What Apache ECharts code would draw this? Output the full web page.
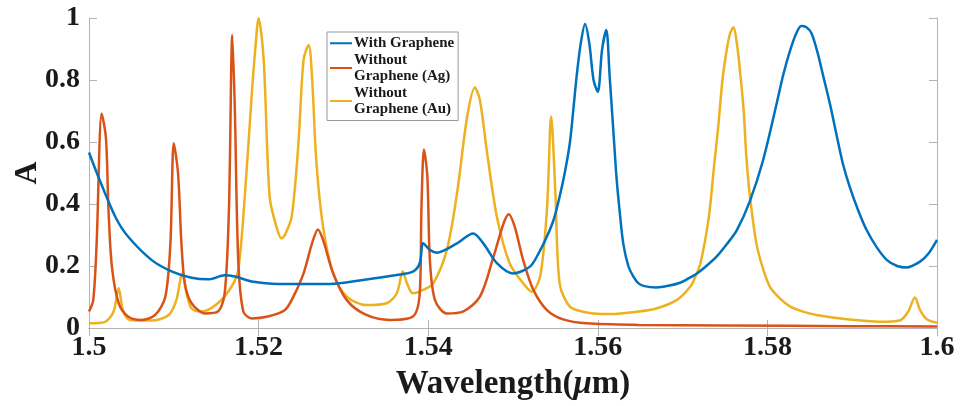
<!DOCTYPE html>
<html>
<head>
<meta charset="utf-8">
<title>Absorption spectra</title>
<script src="https://cdn.jsdelivr.net/npm/echarts@6/dist/echarts.min.js"></script>
<style>
  html, body { margin: 0; padding: 0; background: #fff; }
  #chart { width: 970px; height: 406px; }
</style>
</head>
<body>
<div id="chart"></div>
<script>
// wavelength (um) / absorption values
let grapheneX = [1.5000,1.5011,1.5031,1.5046,1.5074,1.5098,1.5121,1.5141,1.5160,1.5172,1.5192,1.5223,1.5284,1.5323,1.5363,1.5382,1.5390,1.5394,1.5402,1.5410,1.5434,1.5453,1.5465,1.5481,1.5500,1.5520,1.5530,1.5540,1.5548,1.5555,1.5561,1.5567,1.5571,1.5575,1.5580,1.5585,1.5590,1.5595,1.5600,1.5605,1.5610,1.5614,1.5618,1.5622,1.5626,1.5630,1.5636,1.5642,1.5648,1.5655,1.5669,1.5683,1.5697,1.5707,1.5717,1.5728,1.5740,1.5752,1.5764,1.5779,1.5795,1.5811,1.5819,1.5827,1.5834,1.5840,1.5846,1.5852,1.5859,1.5866,1.5874,1.5882,1.5889,1.5897,1.5907,1.5917,1.5929,1.5941,1.5953,1.5964,1.5980,1.5990,1.6000];
let grapheneA = [0.566,0.488,0.359,0.295,0.219,0.182,0.162,0.157,0.170,0.166,0.150,0.142,0.142,0.155,0.171,0.182,0.209,0.273,0.252,0.243,0.273,0.305,0.273,0.209,0.176,0.198,0.240,0.295,0.350,0.424,0.500,0.596,0.700,0.811,0.920,0.981,0.918,0.800,0.762,0.897,0.961,0.811,0.650,0.488,0.370,0.273,0.200,0.166,0.144,0.135,0.131,0.136,0.146,0.160,0.176,0.200,0.230,0.270,0.316,0.407,0.542,0.725,0.820,0.897,0.950,0.974,0.970,0.951,0.890,0.811,0.720,0.617,0.530,0.456,0.380,0.316,0.260,0.219,0.200,0.195,0.214,0.240,0.284];

let agX = [1.5000,1.5005,1.5009,1.5015,1.5020,1.5023,1.5027,1.5035,1.5046,1.5062,1.5078,1.5090,1.5096,1.5100,1.5105,1.5109,1.5113,1.5121,1.5137,1.5152,1.5160,1.5165,1.5169,1.5172,1.5176,1.5182,1.5192,1.5211,1.5231,1.5241,1.5253,1.5263,1.5270,1.5276,1.5288,1.5304,1.5327,1.5355,1.5382,1.5390,1.5392,1.5395,1.5399,1.5402,1.5408,1.5422,1.5441,1.5461,1.5477,1.5489,1.5495,1.5502,1.5512,1.5524,1.5540,1.5559,1.5587,1.5648,1.5750,1.5900,1.6000];
let agA = [0.053,0.090,0.273,0.692,0.612,0.381,0.198,0.080,0.037,0.026,0.042,0.101,0.273,0.596,0.499,0.273,0.144,0.080,0.047,0.053,0.112,0.381,0.945,0.703,0.219,0.053,0.031,0.037,0.058,0.101,0.176,0.273,0.318,0.284,0.176,0.090,0.042,0.026,0.037,0.112,0.381,0.576,0.488,0.219,0.090,0.047,0.053,0.101,0.230,0.338,0.367,0.327,0.219,0.123,0.058,0.028,0.015,0.010,0.008,0.006,0.005];

let auX = [1.5000,1.5019,1.5029,1.5035,1.5040,1.5048,1.5074,1.5094,1.5103,1.5110,1.5115,1.5121,1.5133,1.5152,1.5168,1.5176,1.5184,1.5192,1.5196,1.5200,1.5206,1.5213,1.5221,1.5227,1.5231,1.5239,1.5247,1.5253,1.5259,1.5263,1.5268,1.5276,1.5288,1.5304,1.5327,1.5351,1.5363,1.5370,1.5375,1.5382,1.5394,1.5406,1.5422,1.5434,1.5446,1.5455,1.5461,1.5469,1.5481,1.5496,1.5512,1.5522,1.5532,1.5540,1.5545,1.5550,1.5555,1.5567,1.5587,1.5614,1.5648,1.5669,1.5693,1.5709,1.5715,1.5721,1.5727,1.5732,1.5737,1.5742,1.5747,1.5752,1.5756,1.5760,1.5764,1.5768,1.5772,1.5775,1.5779,1.5787,1.5795,1.5803,1.5815,1.5827,1.5843,1.5858,1.5894,1.5933,1.5956,1.5966,1.5974,1.5980,1.5988,1.6000];
let auA = [0.015,0.020,0.053,0.128,0.058,0.026,0.024,0.042,0.090,0.176,0.112,0.063,0.053,0.080,0.133,0.187,0.435,0.757,0.897,0.999,0.865,0.424,0.327,0.289,0.300,0.359,0.596,0.865,0.913,0.811,0.542,0.327,0.176,0.101,0.074,0.080,0.112,0.182,0.144,0.112,0.123,0.144,0.252,0.435,0.682,0.776,0.735,0.574,0.359,0.209,0.144,0.117,0.166,0.381,0.682,0.435,0.144,0.069,0.050,0.045,0.053,0.063,0.090,0.133,0.165,0.209,0.290,0.381,0.520,0.649,0.800,0.897,0.950,0.970,0.918,0.820,0.703,0.560,0.435,0.273,0.190,0.133,0.095,0.069,0.052,0.042,0.028,0.020,0.024,0.053,0.098,0.058,0.028,0.017];

let seriesNames = ['With Graphene', 'Without\nGraphene (Ag)', 'Without\nGraphene (Au)'];
let seriesColors = ['#0072BD', '#D95319', '#EDB120'];

let font = 'Liberation Serif';
let axisGray = '#b3b3b3';

let pairs = (xs, ys) => xs.map((x, i) => [x, ys[i]]);

let chart = echarts.init(document.getElementById('chart'));

// box axes (top / right) only carry the inner ticks
let sideAxis = (pos) => ({
    type: 'value',
    position: pos,
    min: pos === 'top' ? 1.5 : 0,
    max: pos === 'top' ? 1.6 : 1,
    interval: pos === 'top' ? 0.02 : 0.2,
    axisLine: { show: true, lineStyle: { color: axisGray, width: 1 } },
    axisTick: { show: true, inside: true, length: 8, lineStyle: { color: axisGray } },
    axisLabel: { show: false },
    splitLine: { show: false }
});

let option = {
    backgroundColor: '#fff',
    animation: false,
    grid: { left: 89, right: 33, top: 18, bottom: 78, containLabel: false, outerBoundsMode: 'none' },
    legend: {
        orient: 'vertical',
        left: 327,
        top: 32,
        padding: [3, 4, 3, 3],
        itemGap: 0,
        itemWidth: 22,
        itemHeight: 12,
        backgroundColor: '#fff',
        borderColor: '#999',
        borderWidth: 1,
        borderRadius: 0,
        data: seriesNames.map((n) => ({ name: n, icon: 'path://M0,5L22,5L22,7L0,7Z' })),
        textStyle: { fontFamily: font, fontWeight: 'bold', fontSize: 15, color: '#1a1a1a', lineHeight: 16.5, padding: [0, 0, 0, -3] }
    },
    xAxis: [{
        type: 'value',
        position: 'bottom',
        min: 1.5,
        max: 1.6,
        interval: 0.02,
        name: 'Wavelength({mu|μ}m)',
        nameLocation: 'middle',
        nameGap: 40,
        nameMoveOverlap: false,
        nameTextStyle: {
            fontFamily: font, fontWeight: 'bold', fontSize: 33, color: '#1a1a1a',
            rich: { mu: { fontFamily: font, fontWeight: 'bold', fontStyle: 'italic', fontSize: 33, color: '#1a1a1a' } }
        },
        axisLine: { show: true, lineStyle: { color: axisGray, width: 1 } },
        axisTick: { show: true, inside: true, length: 8, lineStyle: { color: axisGray } },
        axisLabel: {
            margin: 6,
            fontFamily: font, fontWeight: 'bold', fontSize: 28, color: '#1a1a1a',
            formatter: (v) => String(+v.toFixed(2))
        },
        splitLine: { show: false }
    }, sideAxis('top')],
    yAxis: [{
        type: 'value',
        min: 0,
        max: 1,
        interval: 0.2,
        name: 'A',
        nameLocation: 'middle',
        nameGap: 45,
        nameMoveOverlap: false,
        nameTextStyle: { fontFamily: font, fontWeight: 'bold', fontSize: 32, color: '#1a1a1a' },
        axisLine: { show: true, lineStyle: { color: axisGray, width: 1 } },
        axisTick: { show: true, inside: true, length: 8, lineStyle: { color: axisGray } },
        axisLabel: {
            margin: 9,
            fontFamily: font, fontWeight: 'bold', fontSize: 28, color: '#1a1a1a',
            formatter: (v) => String(+v.toFixed(1))
        },
        splitLine: { show: false }
    }, sideAxis('right')],
    series: [
        { name: seriesNames[0], data: pairs(grapheneX, grapheneA) },
        { name: seriesNames[1], data: pairs(agX, agA) },
        { name: seriesNames[2], data: pairs(auX, auA) }
    ].map((s, i) => Object.assign({
        type: 'line',
        xAxisIndex: 0,
        yAxisIndex: 0,
        symbol: 'none',
        smooth: 0.3,
        color: seriesColors[i],
        lineStyle: { color: seriesColors[i], width: 2.5 },
        z: 3 - i
    }, s))
};

chart.setOption(option);
</script>
</body>
</html>
